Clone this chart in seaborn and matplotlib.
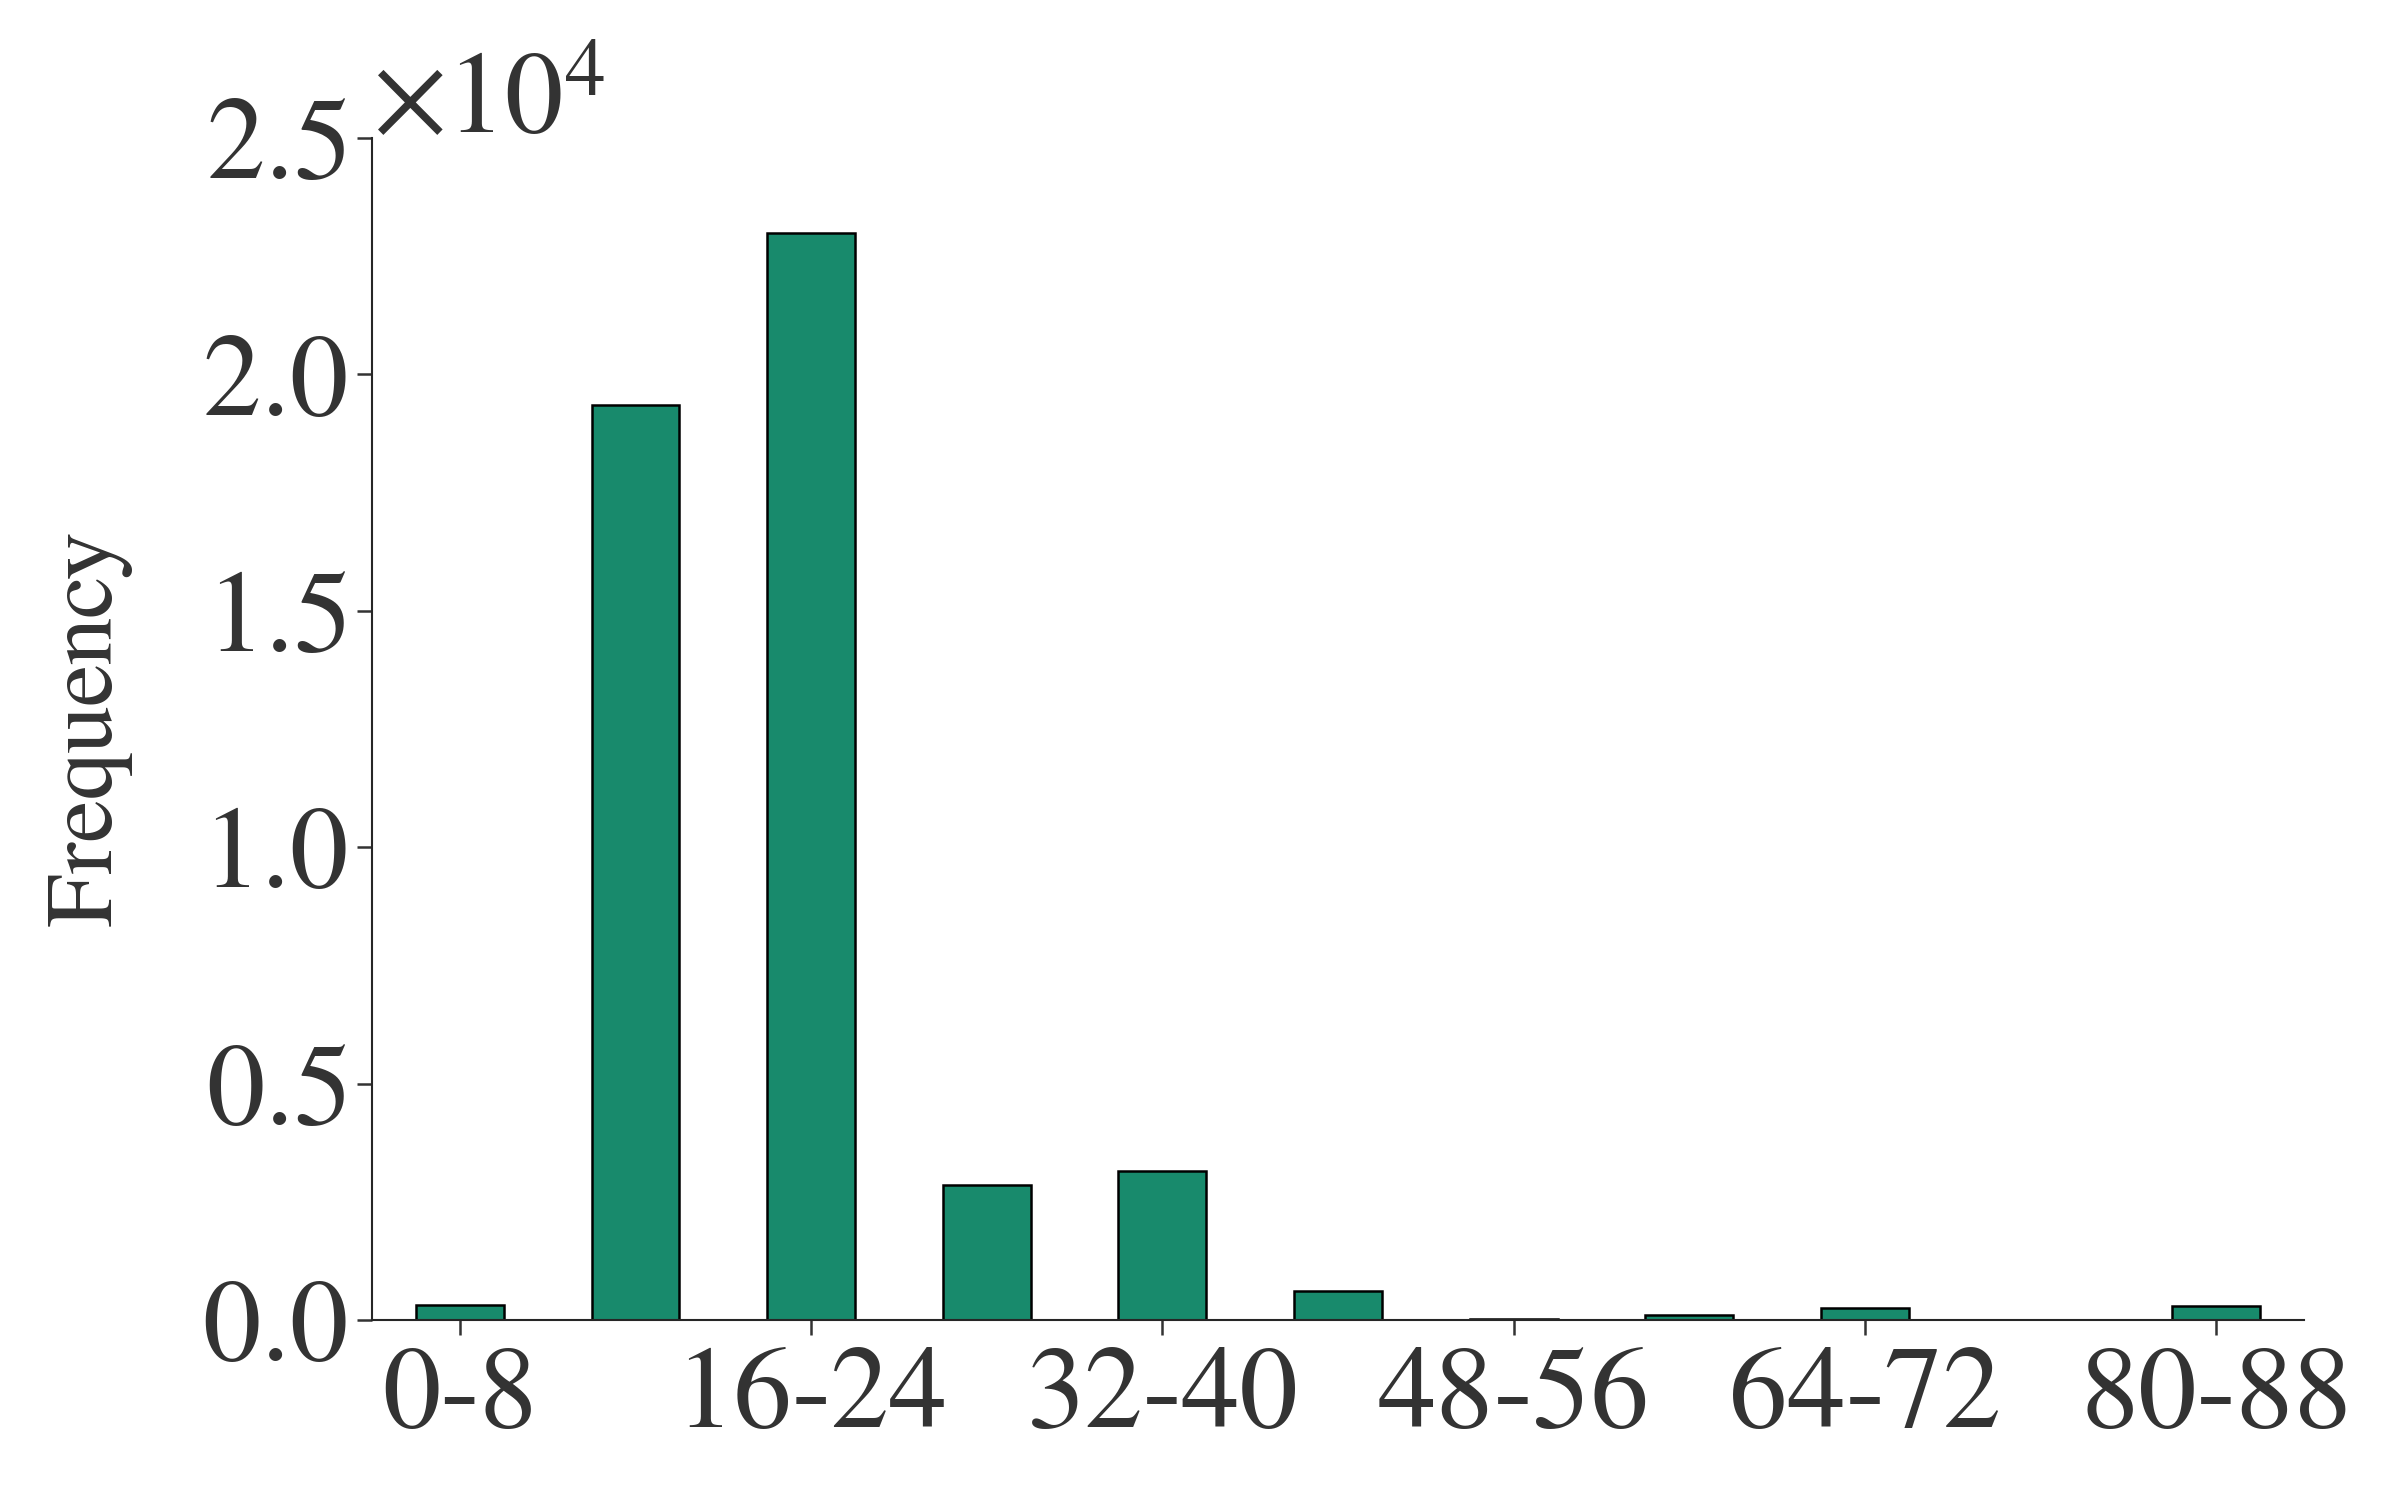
import pandas as pd
import seaborn as sns
import matplotlib.pyplot as plt
from matplotlib.ticker import ScalarFormatter

# --- Data ---
bins = ["0-8", "8-16", "16-24", "24-32", "32-40", "40-48",
        "48-56", "56-64", "64-72", "72-80", "80-88"]
counts = [310, 19350, 23000, 2850, 3150, 610, 20, 110, 260, 8, 290]

df = pd.DataFrame({"bin": bins, "count": counts})

# --- Style ---
sns.set_style("ticks")
plt.rcParams["font.family"] = ["FreeSerif", "Liberation Serif", "DejaVu Serif"]
plt.rcParams["mathtext.fontset"] = "stix"
plt.rcParams["text.color"] = "#333333"
plt.rcParams["xtick.color"] = "#333333"
plt.rcParams["ytick.color"] = "#333333"
plt.rcParams["axes.labelcolor"] = "#333333"

fig = plt.figure(figsize=(16, 10), dpi=150)
ax = fig.add_axes([0.155, 0.12, 0.805, 0.788])

sns.barplot(data=df, x="bin", y="count", color="#188a6c", saturation=1,
            edgecolor="black", linewidth=1.2, width=0.5, ax=ax)

ax.set_xlim(-0.5, len(bins) - 0.5)
ax.set_ylim(0, 25000)
ax.set_yticks([0, 5000, 10000, 15000, 20000, 25000])

fmt = ScalarFormatter(useMathText=True)
fmt.set_powerlimits((0, 0))
ax.yaxis.set_major_formatter(fmt)
ax.yaxis.get_offset_text().set_fontsize(56)

ax.set_xticks(range(0, len(bins), 2))
ax.set_xticklabels(bins[::2])

ax.tick_params(axis="both", labelsize=56, length=7, width=1.2)
ax.tick_params(axis="x", pad=6)
ax.tick_params(axis="y", pad=5)
ax.set_xlabel("")
ax.set_ylabel("Frequency", fontsize=46, labelpad=34)

for s in ["left", "bottom"]:
    ax.spines[s].set_linewidth(1.0)
sns.despine(ax=ax)

fig.savefig("out.png", dpi=150)
